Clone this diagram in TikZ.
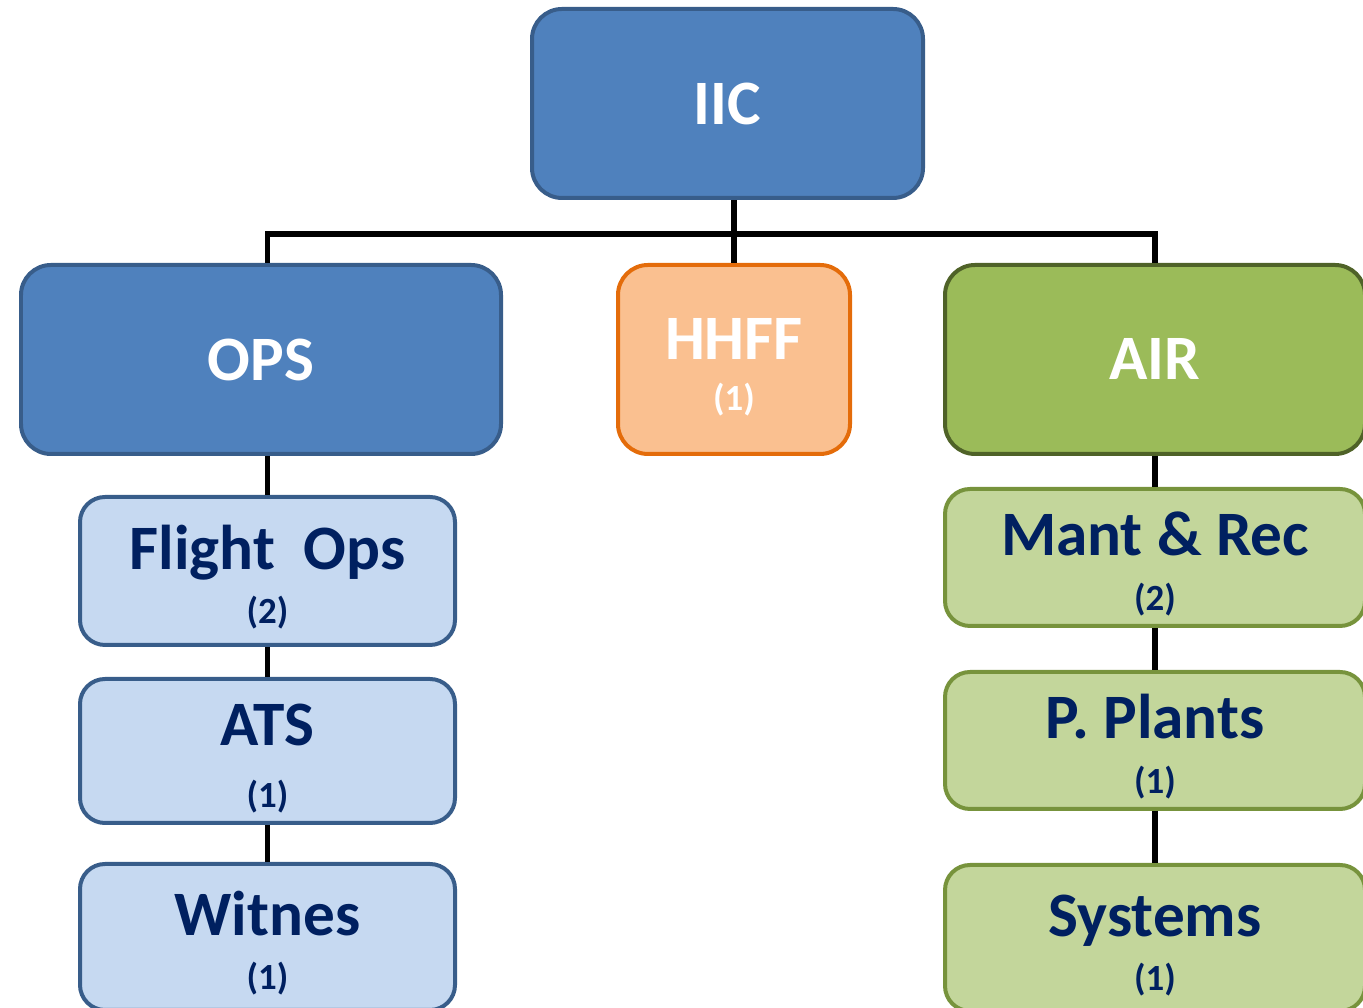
\documentclass[tikz,border=0pt]{standalone}
\usepackage{fontspec}
\setmainfont{Carlito}
\usetikzlibrary{positioning}
\definecolor{topblue}{HTML}{4F81BD}
\definecolor{topblueline}{HTML}{385D8A}
\definecolor{paleblue}{HTML}{C6D9F1}
\definecolor{topgreen}{HTML}{9BBB59}
\definecolor{topgreenline}{HTML}{4F6228}
\definecolor{palegreen}{HTML}{C3D69B}
\definecolor{palegreenline}{HTML}{77933C}
\definecolor{peach}{HTML}{FAC090}
\definecolor{peachline}{HTML}{E46C0A}
\definecolor{navy}{HTML}{002060}
\newcommand{\cnt}[1]{{\fontsize{10.5}{11}\selectfont #1}}
\newcommand{\lift}{\rule{0pt}{16pt}}
\tikzset{
  box/.style={rectangle, rounded corners=0.3cm, line width=0.04cm, align=center,
    inner sep=0pt, font=\bfseries\fontsize{18}{14.5}\selectfont},
  headbox/.style={box, text=white, minimum height=1.89cm},
  unitbox/.style={box, text=navy, rounded corners=0.25cm,
    font=\bfseries\fontsize{18}{15.5}\selectfont},
  opsunit/.style={unitbox, draw=topblueline, fill=paleblue, minimum width=3.75cm},
  airunit/.style={unitbox, draw=palegreenline, fill=palegreen, minimum width=4.20cm},
  wire/.style={line width=0.055cm, black}
}
\begin{document}
\begin{tikzpicture}
  \useasboundingbox (0,0) rectangle (13.63,10.08);

  \node[headbox, draw=topblueline, fill=topblue, minimum width=3.91cm] (iic) at (7.275,9.045) {IIC};
  \node[headbox, draw=topblueline, fill=topblue, minimum width=4.80cm] (ops) at (2.61,6.485) {OPS};
  \node[headbox, draw=peachline, fill=peach, minimum width=2.32cm] (hhff) at (7.34,6.485)
    {\lift HHFF\\\cnt{(1)}};
  \node[headbox, draw=topgreenline, fill=topgreen, minimum width=4.20cm] (air) at (11.55,6.485) {AIR};

  \node[opsunit, minimum height=1.48cm, below=0.39cm of ops, xshift=0.065cm] (flight) {\lift Flight~~Ops\\\cnt{(2)}};
  \node[opsunit, minimum height=1.44cm, below=0.30cm of flight] (ats) {\lift ATS\\[2pt]\cnt{(1)}};
  \node[opsunit, minimum height=1.46cm, below=0.37cm of ats] (witnes) {\lift Witnes\\\cnt{(1)}};

  \node[airunit, minimum height=1.37cm, below=0.31cm of air] (mant) {\lift Mant \& Rec\\\cnt{(2)}};
  \node[airunit, minimum height=1.37cm, below=0.42cm of mant] (plants) {\lift P. Plants\\\cnt{(1)}};
  \node[airunit, minimum height=1.46cm, below=0.52cm of plants] (systems) {\lift Systems\\\cnt{(1)}};

  \coordinate (bus) at (7.35,7.74);
  \draw[wire, line cap=rect] (bus -| flight.north) -- (bus -| mant.north);
  \draw[wire] (bus -| flight.north) -- (flight.north |- ops.north);
  \draw[wire] (bus -| mant.north) -- (mant.north |- air.north);
  \draw[wire] (hhff.north) -- (hhff.north |- iic.south);
  \draw[wire] (flight.north |- ops.south) -- (flight.north);
  \draw[wire] (flight) -- (ats);
  \draw[wire] (ats) -- (witnes);
  \draw[wire] (air) -- (mant);
  \draw[wire] (mant) -- (plants);
  \draw[wire] (plants) -- (systems);
\end{tikzpicture}
\end{document}
